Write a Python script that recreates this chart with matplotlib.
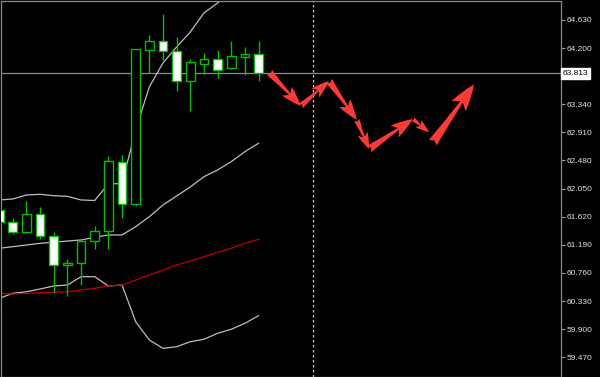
import matplotlib
matplotlib.use('Agg')
import matplotlib.pyplot as plt
import matplotlib.transforms as mtransforms
from matplotlib.patches import Rectangle
import numpy as np

# ===== DANE ŚWIECOWE (OHLC) =====
opens = [61.723, 61.534, 61.386, 61.661, 61.320, 60.881, 60.907, 61.248, 61.401, 62.462,
         61.819, 64.171, 64.304, 64.160, 63.701, 63.961, 64.033, 63.891, 64.068, 64.110]
highs = [61.768, 61.600, 61.860, 61.773, 61.386, 60.973, 61.279, 61.478, 62.549, 62.557,
         64.182, 64.405, 64.714, 64.374, 64.029, 64.125, 64.166, 64.309, 64.217, 64.309]
lows = [61.493, 61.351, 61.375, 61.274, 60.448, 60.407, 60.575, 61.126, 61.130, 61.605,
        61.788, 63.814, 64.023, 63.544, 63.242, 63.799, 63.747, 63.880, 63.788, 63.697]
closes = [61.534, 61.391, 61.657, 61.325, 60.881, 60.904, 61.248, 61.406, 62.468, 61.810,
          64.182, 64.309, 64.160, 63.701, 63.983, 64.033, 63.860, 64.075, 64.114, 63.813]

# ===== WSTĘGI BOLLINGERA + ŚREDNIA =====
bb_upper = [61.876, 61.891, 61.952, 61.963, 61.941, 61.932, 61.876, 61.868, 62.120, 62.128,
            62.947, 63.605, 63.972, 64.217, 64.446, 64.737, 64.890, 65.058, 65.211, 65.364]
bb_mid = [61.137, 61.161, 61.187, 61.213, 61.228, 61.248, 61.264, 61.305, 61.340, 61.340,
          61.467, 61.620, 61.799, 61.937, 62.075, 62.232, 62.335, 62.462, 62.615, 62.743]
bb_lower = [60.371, 60.448, 60.472, 60.514, 60.560, 60.575, 60.702, 60.702, 60.560, 60.575,
            60.013, 59.733, 59.606, 59.631, 59.707, 59.744, 59.836, 59.897, 59.989, 60.105]
ma_red = [60.448, 60.437, 60.448, 60.457, 60.463, 60.472, 60.498, 60.524, 60.560, 60.575,
          60.651, 60.728, 60.804, 60.881, 60.942, 61.008, 61.075, 61.137, 61.213, 61.274]

# ===== PROGNOZA (strzałki) =====
arrow_x = [19.79, 22.09, 24.16, 26.19, 27.10, 30.30, 31.76]
arrow_y = [63.830, 63.314, 63.697, 63.100, 62.656, 63.115, 62.752]
arrow_x_end = [22.09, 24.16, 26.19, 27.10, 30.30, 31.49, 34.79]
arrow_y_end = [63.314, 63.697, 63.100, 62.656, 63.115, 62.912, 63.646]

current_price = 63.813
future_line_bar = 23
price_ticks = [64.630, 64.200, 63.340, 62.910, 62.480, 62.050, 61.620,
               61.190, 60.760, 60.330, 59.900, 59.470]

GREEN = '#00c000'
BAND = '#bdbdbd'
RED_MA = '#c00000'
ARROW = '#ff3838'

fig = plt.figure(figsize=(6.0, 3.77), dpi=100, facecolor='black')
ax = fig.add_axes([0.5 / 600, 0.5 / 377, 560 / 600, 376 / 377])
ax.set_facecolor('black')

x = np.arange(len(opens))

# linie wskaźników
ax.plot(x, bb_upper, color=BAND, lw=0.9, zorder=2)
ax.plot(x, bb_mid, color=BAND, lw=0.9, zorder=2)
ax.plot(x, bb_lower, color=BAND, lw=0.9, zorder=2)
ax.plot(x, ma_red, color=RED_MA, lw=0.9, zorder=2)

# świece
body_w = 0.64
for i in range(len(opens)):
    o, h, l, c = opens[i], highs[i], lows[i], closes[i]
    ax.vlines(x[i], l, h, color=GREEN, lw=1.0, zorder=3)
    bottom = min(o, c)
    height = max(abs(c - o), 0.02)
    face = 'white' if c < o else 'black'
    ax.add_patch(Rectangle((x[i] - body_w / 2, bottom), body_w, height,
                           facecolor=face, edgecolor=GREEN, lw=1.0, zorder=4))

# linia aktualnej ceny i linia przyszłości
ax.axhline(current_price, color='#848d99', lw=0.9, zorder=1)
ax.axvline(future_line_bar, color='#c8c8c8', lw=0.9, ls=(0, (2, 2)), zorder=1)

# strzałki prognozy
px_per_x = 13.65
px_per_y = 65.37
for x0, y0, x1, y1 in zip(arrow_x, arrow_y, arrow_x_end, arrow_y_end):
    length = np.hypot((x1 - x0) * px_per_x, (y1 - y0) * px_per_y)
    scale = 7 + 0.22 * length
    ax.annotate('', xy=(x1, y1), xytext=(x0, y0),
                arrowprops=dict(arrowstyle='fancy,head_length=0.85,head_width=0.55,tail_width=0.3',
                                color=ARROW, lw=0, shrinkA=0, shrinkB=0,
                                mutation_scale=scale),
                zorder=5)

ax.set_xlim(0.099, 41.12)
ax.set_ylim(59.175, 64.928)

# oś cen po prawej
ax.yaxis.tick_right()
ax.set_yticks(price_ticks)
ax.set_yticklabels([f'{t:.3f}' for t in price_ticks])
ax.tick_params(axis='y', colors='#9a9a9a', length=3, width=0.8, pad=1.5,
               labelsize=6, labelcolor='#e0e0e0')
for lab in ax.get_yticklabels():
    lab.set_fontfamily('Liberation Sans')
ax.set_xticks([])
for s in ax.spines.values():
    s.set_color('#8a8a8a')
    s.set_linewidth(0.9)

# etykieta aktualnej ceny
trans = mtransforms.blended_transform_factory(ax.transAxes, ax.transData)
ax.text(1.004, current_price, f'{current_price:.3f}', transform=trans,
        ha='left', va='center', fontsize=6, family='Liberation Sans', color='black',
        bbox=dict(boxstyle='square,pad=0.25', facecolor='white', edgecolor='white'),
        zorder=10, clip_on=False)

fig.savefig('out.png', dpi=100, facecolor='black')
